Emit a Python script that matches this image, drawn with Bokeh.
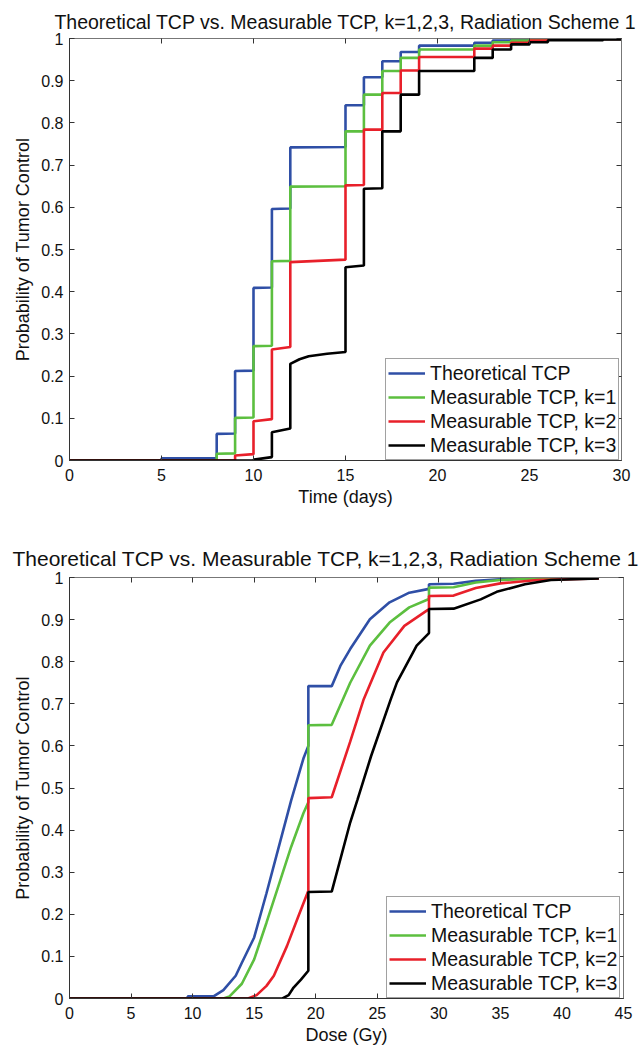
from bokeh.plotting import figure
from bokeh.models import Legend, LegendItem, LinearAxis, FixedTicker, Range1d
from bokeh.layouts import column
from bokeh.embed import file_html
from bokeh.resources import INLINE

TITLE = "Theoretical TCP vs. Measurable TCP, k=1,2,3, Radiation Scheme 1"
SERIES = ["Theoretical TCP", "Measurable TCP, k=1", "Measurable TCP, k=2", "Measurable TCP, k=3"]
COLORS = ["#2f4fa6", "#5cbf3f", "#e8202a", "#000000"]
Y_LABEL = "Probability of Tumor Control"

y_ticks = [0, 0.1, 0.2, 0.3, 0.4, 0.5, 0.6, 0.7, 0.8, 0.9, 1]
y_tick_labels = ["0", "0.1", "0.2", "0.3", "0.4", "0.5", "0.6", "0.7", "0.8", "0.9", "1"]
time_ticks = [0, 5, 10, 15, 20, 25, 30]
time_tick_labels = ["0", "5", "10", "15", "20", "25", "30"]
dose_ticks = [0, 5, 10, 15, 20, 25, 30, 35, 40, 45]
dose_tick_labels = ["0", "5", "10", "15", "20", "25", "30", "35", "40", "45"]

# ---- Panel 1: TCP vs time (days) ----
time_theo_x = [0, 5, 5, 8, 8, 9, 9, 10, 10, 11, 11, 12, 12, 15, 15, 16, 16, 17, 17, 18, 18, 19, 19, 22, 22, 23, 23, 24, 24, 30]
time_theo_y = [0, 0, 0.005, 0.005, 0.063, 0.064, 0.212, 0.213, 0.409, 0.41, 0.596, 0.597, 0.742, 0.743, 0.842, 0.842, 0.908, 0.908, 0.946, 0.946, 0.968, 0.968, 0.983, 0.983, 0.99, 0.99, 0.995, 0.995, 0.998, 0.999]
time_k1_x = [0, 8, 8, 9, 9, 10, 10, 11, 11, 12, 12, 15, 15, 16, 16, 17, 17, 18, 18, 19, 19, 22, 22, 23, 23, 24, 24, 25, 25, 26, 26, 30]
time_k1_y = [0, 0, 0.016, 0.017, 0.101, 0.102, 0.271, 0.272, 0.472, 0.473, 0.649, 0.650, 0.780, 0.780, 0.867, 0.867, 0.923, 0.923, 0.954, 0.954, 0.974, 0.974, 0.983, 0.983, 0.991, 0.991, 0.995, 0.995, 0.998, 0.998, 0.999, 0.999]
time_k2_x = [0, 9, 9, 10, 10, 11, 11, 12, 12, 15, 15, 16, 16, 17, 17, 18, 18, 19, 19, 22, 22, 23, 23, 24, 24, 25, 25, 26, 26, 29, 29, 30]
time_k2_y = [0, 0, 0.012, 0.015, 0.093, 0.098, 0.263, 0.269, 0.470, 0.476, 0.652, 0.653, 0.784, 0.784, 0.871, 0.871, 0.924, 0.924, 0.956, 0.956, 0.976, 0.976, 0.983, 0.983, 0.990, 0.990, 0.995, 0.995, 0.998, 0.998, 0.999, 0.999]
time_k3_x = [0, 10, 10, 11, 11, 12, 12, 12.5, 13, 14, 15, 15, 16, 16, 17, 17, 18, 18, 19, 19, 22, 22, 23, 23, 24, 24, 25, 25, 26, 26, 29, 29, 30]
time_k3_y = [0, 0, 0.002, 0.008, 0.067, 0.076, 0.229, 0.240, 0.247, 0.253, 0.257, 0.458, 0.462, 0.644, 0.645, 0.780, 0.780, 0.867, 0.867, 0.923, 0.923, 0.954, 0.954, 0.974, 0.974, 0.986, 0.986, 0.991, 0.991, 0.996, 0.996, 0.998, 0.998]

# ---- Panel 2: TCP vs dose (Gy) ----
dose_theo_x = [0, 9.6, 9.6, 11.7, 12.5, 13.5, 14, 15, 16, 17, 18, 19, 19.4, 19.4, 21.3, 22, 22.8, 24.4, 26, 27.6, 29.2, 29.2, 31.2, 33, 35, 37.5, 40, 43]
dose_theo_y = [0, 0, 0.005, 0.005, 0.02, 0.054, 0.085, 0.145, 0.25, 0.36, 0.47, 0.57, 0.6, 0.742, 0.742, 0.79, 0.83, 0.901, 0.941, 0.964, 0.973, 0.984, 0.985, 0.992, 0.996, 0.998, 0.999, 1.0]
dose_k1_x = [0, 12.5, 13, 14, 15, 16, 17, 18, 19, 19.4, 19.4, 21.3, 22.8, 24.4, 26, 27.6, 29.2, 29.2, 31.2, 33, 35, 38, 43]
dose_k1_y = [0, 0, 0.005, 0.035, 0.093, 0.18, 0.27, 0.36, 0.44, 0.466, 0.649, 0.650, 0.75, 0.838, 0.893, 0.929, 0.949, 0.976, 0.977, 0.988, 0.994, 0.998, 0.999]
dose_k2_x = [0, 14.5, 15.2, 16, 16.6, 17.67, 18.6, 19.4, 19.4, 21.3, 22.8, 23.9, 25.5, 27.2, 29.2, 29.2, 31.2, 33, 35, 38, 43]
dose_k2_y = [0, 0, 0.008, 0.03, 0.054, 0.125, 0.196, 0.256, 0.476, 0.478, 0.61, 0.711, 0.822, 0.885, 0.925, 0.956, 0.957, 0.975, 0.986, 0.994, 0.998]
dose_k3_x = [0, 17.3, 17.8, 18.2, 18.8, 19.4, 19.4, 21.3, 22.8, 23.4, 24.5, 26.1, 26.6, 28.2, 29.2, 29.2, 31.2, 33.4, 34.7, 37, 39.1, 43]
dose_k3_y = [0, 0, 0.008, 0.026, 0.045, 0.066, 0.253, 0.254, 0.418, 0.473, 0.576, 0.711, 0.751, 0.838, 0.868, 0.925, 0.926, 0.948, 0.966, 0.984, 0.994, 0.998]

FONT = "Liberation Sans"
AXIS_COLOR = "#333333"


def style_axis(ax, ticks, labels, show_labels=True):
    ax.ticker = FixedTicker(ticks=ticks)
    if show_labels:
        ax.major_label_overrides = {t: l for t, l in zip(ticks, labels)}
    else:
        ax.major_label_overrides = {t: "" for t in ticks}
    ax.major_tick_in = 5
    ax.major_tick_out = 0
    ax.minor_tick_in = 0
    ax.minor_tick_out = 0
    ax.axis_line_color = AXIS_COLOR
    ax.major_tick_line_color = AXIS_COLOR
    ax.major_label_text_font = FONT
    ax.major_label_text_font_size = "16px"
    ax.major_label_text_color = "#111111"
    ax.axis_label_text_font = FONT
    ax.axis_label_text_font_size = "18px"
    ax.axis_label_text_font_style = "normal"
    ax.axis_label_text_color = "#111111"


def make_panel(xs, ys, xmax, xticks, xticklabels, xlabel, fw, fh, bl, br, bt, bb,
               title_size, title_align, title_offset, title_standoff, legend_x, legend_size):
    p = figure(output_backend="svg", toolbar_location=None,
               frame_width=fw, frame_height=fh,
               min_border_left=bl, min_border_right=br,
               min_border_top=bt, min_border_bottom=bb,
               x_range=Range1d(0, xmax), y_range=Range1d(0, 1),
               x_axis_label=xlabel, y_axis_label=Y_LABEL)
    p.grid.visible = False
    p.outline_line_color = "#777777"
    p.background_fill_color = "white"
    p.border_fill_color = "white"

    style_axis(p.xaxis[0], xticks, xticklabels)
    style_axis(p.yaxis[0], y_ticks, y_tick_labels)
    p.xaxis[0].major_label_standoff = 8
    p.xaxis[0].axis_label_standoff = 3
    p.yaxis[0].major_label_standoff = 6
    p.yaxis[0].axis_label_standoff = 5

    top = LinearAxis()
    style_axis(top, xticks, xticklabels, show_labels=False)
    top.axis_line_color = "#777777"
    p.add_layout(top, "above")
    right = LinearAxis()
    style_axis(right, y_ticks, y_tick_labels, show_labels=False)
    right.axis_line_color = "#777777"
    p.add_layout(right, "right")

    p.title.text = TITLE
    p.title.text_font = FONT
    p.title.text_font_size = title_size
    p.title.text_font_style = "normal"
    p.title.text_color = "#111111"
    p.title.align = title_align
    p.title.offset = title_offset
    p.title.standoff = title_standoff

    items = []
    for x, y, name, c in zip(xs, ys, SERIES, COLORS):
        r = p.line(x, y, line_color=c, line_width=2.6)
        items.append(LegendItem(label=name, renderers=[r]))
    leg = Legend(items=items, location=(legend_x, 0))
    leg.label_text_font = FONT
    leg.label_text_font_size = legend_size
    leg.label_text_color = "#111111"
    leg.glyph_width = 37
    leg.glyph_height = 24
    leg.label_height = 24
    leg.label_standoff = 5
    leg.spacing = 0
    leg.padding = 2
    leg.margin = 0
    leg.border_line_color = "#444444"
    leg.background_fill_alpha = 1
    p.add_layout(leg)
    return p


p1 = make_panel([time_theo_x, time_k1_x, time_k2_x, time_k3_x],
                [time_theo_y, time_k1_y, time_k2_y, time_k3_y],
                30, time_ticks, time_tick_labels, "Time (days)",
                552, 422, 65, 22, 38, 76, "19.5px", "center", 0, 12, 316, "19.5px")
p2 = make_panel([dose_theo_x, dose_k1_x, dose_k2_x, dose_k3_x],
                [dose_theo_y, dose_k1_y, dose_k2_y, dose_k3_y],
                45, dose_ticks, dose_tick_labels, "Dose (Gy)",
                554, 421, 69, 16, 40, 46, "21px", "left", -57, 16, 317, "19.5px")

layout = column(p1, p2)
open("out.html", "w").write(file_html(layout, INLINE))
